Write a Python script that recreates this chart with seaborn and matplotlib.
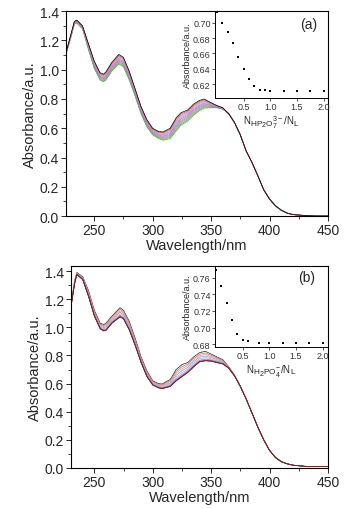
import numpy as np
import pandas as pd
import matplotlib
matplotlib.use("Agg")
import matplotlib.pyplot as plt
import seaborn as sns
from matplotlib.ticker import MultipleLocator
try:
    import matplotlib._mathtext as _mt
    _mt.SHRINK_FACTOR = 0.85
except Exception:
    pass

sns.set_theme(style="ticks")
plt.rcParams['font.family'] = ['Liberation Sans', 'DejaVu Sans']
plt.rcParams['mathtext.fontset'] = 'custom'
plt.rcParams['mathtext.rm'] = 'Liberation Sans'
plt.rcParams['mathtext.it'] = 'Liberation Sans'

# ---------- data ----------
wl = [226, 230, 233, 235, 240, 245, 250, 255, 258, 260, 265, 271, 275, 280, 285, 290,
      295, 300, 305, 309, 315, 320, 324, 330, 335, 340, 344, 350, 355, 360, 365, 370,
      375, 380, 385, 390, 395, 400, 405, 410, 415, 420, 430, 440, 450]

# panel (a): first (no anion) and last spectrum
a_first = [1.12, 1.24, 1.33, 1.34, 1.30, 1.18, 1.06, 0.98, 0.97, 0.985, 1.05, 1.105, 1.085, 0.99,
           0.87, 0.75, 0.66, 0.60, 0.578, 0.575, 0.60, 0.67, 0.705, 0.725, 0.765, 0.79, 0.80,
           0.775, 0.755, 0.74, 0.70, 0.64, 0.555, 0.445, 0.366, 0.275, 0.18, 0.116, 0.07, 0.04,
           0.02, 0.01, 0.003, 0.0, 0.0]
a_last = [1.11, 1.22, 1.31, 1.32, 1.28, 1.14, 1.01, 0.93, 0.918, 0.93, 0.99, 1.04, 1.02, 0.93,
          0.82, 0.70, 0.61, 0.555, 0.53, 0.518, 0.53, 0.58, 0.62, 0.65, 0.69, 0.72, 0.738,
          0.74, 0.74, 0.73, 0.70, 0.64, 0.555, 0.445, 0.366, 0.275, 0.18, 0.116, 0.07, 0.04,
          0.02, 0.01, 0.003, 0.0, 0.0]
# relative position of each drawn spectrum between first and last (read at 270 nm)
pos_a = [0.0, 0.1, 0.2, 0.3, 0.4, 0.5, 0.6, 0.7, 0.8, 0.9, 1.0]

# panel (b)
wl_b = [230, 233, 235, 240, 245, 250, 255, 258, 260, 265, 272, 275, 280, 285, 290,
        295, 300, 305, 308, 315, 320, 325, 330, 335, 340, 345, 350, 355, 360, 365, 370,
        375, 380, 385, 390, 395, 400, 405, 410, 415, 420, 430, 440, 450]
b_first = [1.16, 1.33, 1.39, 1.36, 1.26, 1.12, 1.03, 1.02, 1.03, 1.08, 1.14, 1.12, 1.04, 0.92,
           0.79, 0.69, 0.62, 0.60, 0.597, 0.63, 0.70, 0.735, 0.75, 0.79, 0.82, 0.83, 0.81,
           0.79, 0.77, 0.72, 0.66, 0.58, 0.49, 0.39, 0.29, 0.20, 0.125, 0.075, 0.045, 0.03,
           0.02, 0.012, 0.01, 0.01]
b_last = [1.15, 1.31, 1.375, 1.34, 1.22, 1.08, 0.99, 0.975, 0.98, 1.03, 1.075, 1.06, 0.98, 0.87,
          0.75, 0.65, 0.59, 0.57, 0.565, 0.58, 0.62, 0.65, 0.68, 0.72, 0.755, 0.763, 0.76,
          0.75, 0.74, 0.71, 0.655, 0.58, 0.49, 0.39, 0.29, 0.20, 0.125, 0.075, 0.045, 0.03,
          0.02, 0.012, 0.01, 0.01]
pos_b = [0.0, 0.17, 0.33, 0.5, 0.67, 0.83, 0.93, 1.0, 1.0, 1.0]

# insets
ratio_a = [0.0, 0.1, 0.2, 0.3, 0.4, 0.5, 0.6, 0.7, 0.8, 0.9, 1.0, 1.25, 1.5, 1.75, 2.0]
abs_a = [0.7135, 0.700, 0.688, 0.673, 0.655, 0.640, 0.627, 0.618, 0.613, 0.612, 0.611,
         0.6105, 0.6105, 0.6105, 0.611]
ratio_b = [0.0, 0.1, 0.2, 0.3, 0.4, 0.5, 0.6, 0.8, 1.0, 1.25, 1.5, 1.75, 2.0]
abs_b = [0.769, 0.750, 0.730, 0.709, 0.692, 0.685, 0.684, 0.681, 0.681, 0.681, 0.682,
         0.681, 0.681]

colors_a = ['#000000', '#E04040', '#9090E0', '#E070E0', '#C0A0A0', '#8080C0',
            '#B080E0', '#70A070', '#A0A050', '#60B060', '#40A040']
colors_b = ['#202020', '#E06050', '#E09080', '#8090E0', '#B0A0D0', '#7080C0',
            '#A05070', '#A03030', '#803030', '#702020']


def spectra_frame(w, first, last, pos):
    f = np.asarray(first)
    l = np.asarray(last)
    rows = []
    for i, p in enumerate(pos):
        rows.append(pd.DataFrame({'wl': w, 'A': f + p * (l - f), 'curve': i}))
    return pd.concat(rows, ignore_index=True)


df_a = spectra_frame(wl, a_first, a_last, pos_a)
df_b = spectra_frame(wl_b, b_first, b_last, pos_b)

fig = plt.figure(figsize=(3.5, 5.1), dpi=100)


def style_main(ax, xlo, ylim):
    ax.set_xlim(xlo, 450)
    ax.set_ylim(*ylim)
    ax.set_xticks([250, 300, 350, 400, 450])
    ax.set_yticks([0.0, 0.2, 0.4, 0.6, 0.8, 1.0, 1.2, 1.4])
    ax.set_yticklabels(['0.0', '0.2', '0.4', '0.6', '0.8', '1.0', '1.2', '1.4'])
    ax.xaxis.set_minor_locator(MultipleLocator(25))
    ax.yaxis.set_minor_locator(MultipleLocator(0.1))
    ax.tick_params(which='major', direction='out', length=3.5, width=0.7, labelsize=10, pad=1.5)
    ax.tick_params(which='minor', direction='out', length=2, width=0.6)
    ax.set_xlabel('Wavelength/nm', fontsize=10.5, labelpad=1)
    ax.set_ylabel('Absorbance/a.u.', fontsize=10.5, labelpad=2)
    for s in ax.spines.values():
        s.set_linewidth(0.8)
        s.set_color('black')


def style_inset(ax, xlim, ylim, yticks, ytl, xlabel):
    ax.set_xlim(*xlim)
    ax.set_ylim(*ylim)
    ax.set_xticks([0.5, 1.0, 1.5, 2.0])
    ax.set_yticks(yticks)
    ax.set_yticklabels(ytl)
    ax.tick_params(direction='out', length=2, width=0.6, labelsize=6.5, pad=1, colors='#333333')
    ax.set_xlabel(xlabel, fontsize=7, labelpad=2)
    ax.set_ylabel('Absorbance/a.u.', fontsize=6.5, labelpad=1)
    ax.patch.set_alpha(0)
    for s in ax.spines.values():
        s.set_linewidth(0.7)
        s.set_color('black')


# Panel (a): first spectrum drawn last so it lies on top
ax1 = fig.add_axes([0.189, 0.5745, 0.748, 0.4015])
sns.lineplot(data=df_a, x='wl', y='A', hue='curve',
             palette={i: c for i, c in enumerate(colors_a)},
             hue_order=list(range(len(pos_a)))[::-1],
             legend=False, linewidth=0.5, ax=ax1, sort=False, estimator=None)
style_main(ax1, 226, (0, 1.4))
ax1.text(0.96, 0.94, '(a)', transform=ax1.transAxes, fontsize=10, ha='right', va='center')

in1 = fig.add_axes([0.614, 0.806, 0.323, 0.170])
sns.scatterplot(x=ratio_a, y=abs_a, ax=in1, color='black', s=3, marker='s', linewidth=0)
style_inset(in1, (-0.04, 2.08), (0.602, 0.715), [0.62, 0.64, 0.66, 0.68, 0.70],
            ['0.62', '0.64', '0.66', '0.68', '0.70'],
            r'$\mathregular{N_{HP_2O_7^{3-}}/N_L}$')

# Panel (b)
ax2 = fig.add_axes([0.203, 0.0804, 0.734, 0.396])
sns.lineplot(data=df_b, x='wl', y='A', hue='curve',
             palette={i: c for i, c in enumerate(colors_b)},
             legend=False, linewidth=0.5, ax=ax2, sort=False, estimator=None)
style_main(ax2, 230, (0, 1.436))
ax2.text(0.95, 0.945, '(b)', transform=ax2.transAxes, fontsize=10, ha='right', va='center')

in2 = fig.add_axes([0.614, 0.318, 0.323, 0.1585])
sns.scatterplot(x=ratio_b, y=abs_b, ax=in2, color='black', s=3, marker='s', linewidth=0)
style_inset(in2, (-0.02, 2.1), (0.677, 0.774), [0.68, 0.70, 0.72, 0.74, 0.76],
            ['0.68', '0.70', '0.72', '0.74', '0.76'],
            r'$\mathregular{N_{H_2PO_4^{-}}/N_L}$')

fig.savefig('out.png', dpi=100)
